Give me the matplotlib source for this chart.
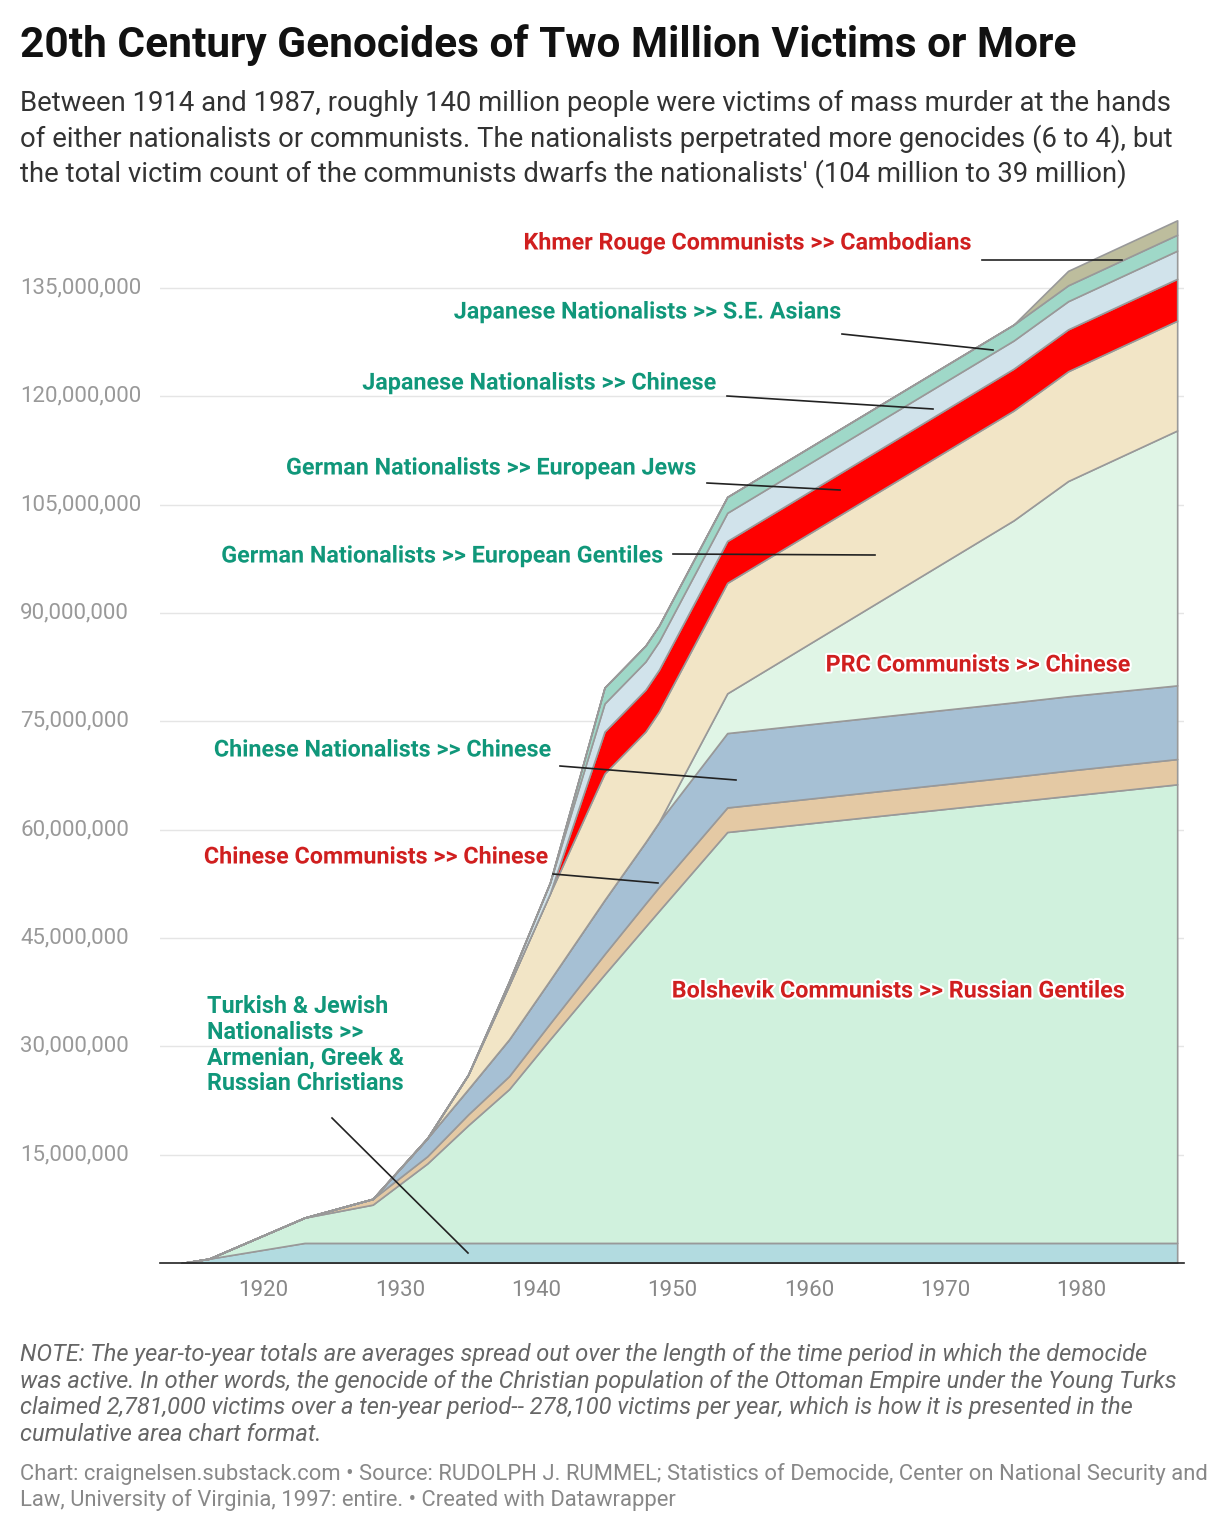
import matplotlib
matplotlib.use("Agg")
import matplotlib.pyplot as plt
import matplotlib.patheffects as pe
import numpy as np

plt.rcParams['font.family'] = ['Roboto', 'DejaVu Sans']

years = [1914, 1916, 1923, 1928, 1932, 1935, 1938, 1941, 1945, 1948, 1949, 1954, 1975, 1979, 1987]
turkish      = [0, 0.6, 2.78, 2.78, 2.78, 2.78, 2.78, 2.78, 2.78, 2.78, 2.78, 2.78, 2.78, 2.78, 2.78]
bolshevik    = [0, 0, 3.5, 5.3, 11, 16.3, 21.3, 28.2, 37.2, 43.8, 46, 56.9, 61.1, 61.9, 63.5]
chin_comm    = [0, 0, 0, 0.8, 1.0, 1.5, 1.8, 2.2, 2.8, 3.2, 3.3, 3.4, 3.45, 3.5, 3.5]
chin_nat     = [0, 0, 0, 0, 2.5, 3.5, 5.1, 6.0, 7.5, 8.5, 9.0, 10.3, 10.3, 10.3, 10.2]
prc          = [0, 0, 0, 0, 0, 0, 0, 0, 0, 0, 0, 5.5, 25.2, 29.8, 35.3]
ger_gentiles = [0, 0, 0, 0, 0, 2.0, 7.5, 12.0, 17.5, 15.3, 15.3, 15.3, 15.2, 15.2, 15.2]
ger_jews     = [0, 0, 0, 0, 0, 0, 0, 0, 5.8, 5.8, 5.8, 5.8, 5.8, 5.8, 5.8]
jap_chinese  = [0, 0, 0, 0, 0, 0, 0.5, 1.5, 3.9, 3.9, 3.9, 3.9, 3.9, 3.9, 3.9]
jap_se       = [0, 0, 0, 0, 0, 0, 0, 0, 2.2, 2.2, 2.2, 2.2, 2.2, 2.2, 2.2]
khmer        = [0, 0, 0, 0, 0, 0, 0, 0, 0, 0, 0, 0, 0, 2.0, 2.0]

series = [turkish, bolshevik, chin_comm, chin_nat, prc, ger_gentiles, ger_jews, jap_chinese, jap_se, khmer]
colors = ['#b2dbe0', '#d0f1dd', '#e4c9a4', '#a6c0d4', '#e0f5e6', '#f2e5c6', '#ff0000', '#d1e3eb', '#9fd8c8', '#bdbd9d']

W, H = 1224, 1536
fig = plt.figure(figsize=(W/100, H/100), dpi=100)
ax = fig.add_axes([160/W, 1-1263/H, (1184-160)/W, (1263-205)/H])

vals = np.array(series) * 1e6
ax.stackplot(years, vals, colors=colors, edgecolor='#999999', linewidth=1.2)
ax.set_xlim(1912.4, 1987.5)
ax.set_ylim(0, 146.5e6)

yt = np.arange(15e6, 136e6, 15e6)
ax.set_yticks(yt)
ax.set_yticklabels([])
ax.tick_params(axis='y', length=0)
for v in yt:
    ax.axhline(v, color='#e5e5e5', lw=1, zorder=0)
    ax.text(-140/1024, v, f"{int(v):,}", transform=ax.get_yaxis_transform(),
            ha='left', va='center', fontsize=16, color='#999999')
ax.set_axisbelow(True)
ax.set_xticks([1920, 1930, 1940, 1950, 1960, 1970, 1980])
ax.tick_params(axis='x', length=0, labelsize=16, labelcolor='#888888', pad=12)
for s in ['top', 'right', 'left']:
    ax.spines[s].set_visible(False)
ax.spines['bottom'].set_color('#222222')
ax.spines['bottom'].set_linewidth(1.2)

def P(x, y):
    return (x, H - y)

GREEN = '#10977a'
RED = '#d01f1f'
labels = [
    ("Khmer Rouge Communists >> Cambodians", 972, 243, RED, (982, 260), (1122, 260)),
    ("Japanese Nationalists >> S.E. Asians", 842, 312, GREEN, (842, 334), (993, 350)),
    ("Japanese Nationalists >> Chinese", 717, 383, GREEN, (727, 396), (933, 409)),
    ("German Nationalists >> European Jews", 697, 468, GREEN, (707, 483), (840, 490)),
    ("German Nationalists >> European Gentiles", 664, 556, GREEN, (673, 554), (875, 555)),
    ("PRC Communists >> Chinese", 1131, 665, RED, None, None),
    ("Chinese Nationalists >> Chinese", 552, 750, GREEN, (560, 766), (736, 780)),
    ("Chinese Communists >> Chinese", 549, 857, RED, (553, 874), (658, 883)),
    ("Bolshevik Communists >> Russian Gentiles", 1126, 991, RED, None, None),
]
halo = [pe.withStroke(linewidth=3, foreground='white')]
for t, x, y, c, a, b in labels:
    fig.text(*P(x, y), t, transform=None, ha='right', va='center', fontsize=16.8,
             fontweight='bold', color=c, path_effects=halo)
    if a:
        fig.add_artist(plt.Line2D([a[0], b[0]], [H-a[1], H-b[1]], transform=None,
                                  color='#222222', lw=1.2))
fig.text(*P(207, 995), "Turkish & Jewish\nNationalists >>\nArmenian, Greek &\nRussian Christians",
         transform=None, ha='left', va='top', fontsize=16.8, fontweight='bold',
         color=GREEN, linespacing=1.15)
fig.add_artist(plt.Line2D([332, 468], [H-1118, H-1253], transform=None, color='#222222', lw=1.2))

fig.text(20/W, 1-45/H, "20th Century Genocides of Two Million Victims or More",
         fontsize=30.5, fontweight='bold', color='#111111', va='center')
fig.text(20/W, 1-90/H,
         "Between 1914 and 1987, roughly 140 million people were victims of mass murder at the hands\n"
         "of either nationalists or communists. The nationalists perpetrated more genocides (6 to 4), but\n"
         "the total victim count of the communists dwarfs the nationalists' (104 million to 39 million)",
         fontsize=19.8, color='#333333', va='top', linespacing=1.3)
fig.text(20/W, 1-1343/H,
         "NOTE: The year-to-year totals are averages spread out over the length of the time period in which the democide\n"
         "was active. In other words, the genocide of the Christian population of the Ottoman Empire under the Young Turks\n"
         "claimed 2,781,000 victims over a ten-year period-- 278,100 victims per year, which is how it is presented in the\n"
         "cumulative area chart format.",
         fontsize=17, style='italic', color='#666666', va='top', linespacing=1.2)
fig.text(20/W, 1-1463/H,
         "Chart: craignelsen.substack.com \u2022 Source: RUDOLPH J. RUMMEL; Statistics of Democide, Center on National Security and\n"
         "Law, University of Virginia, 1997: entire. \u2022 Created with Datawrapper",
         fontsize=15.8, color='#888888', va='top', linespacing=1.25)

fig.savefig("out.png", dpi=100, facecolor='white')
